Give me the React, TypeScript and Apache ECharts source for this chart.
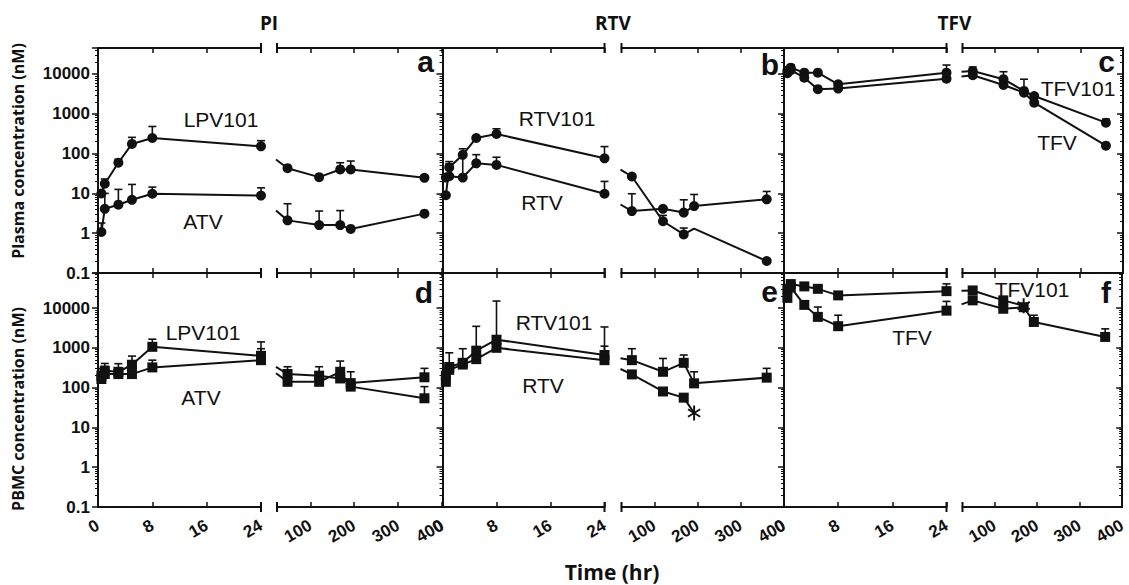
import React, { useEffect, useRef } from "react";
import * as echarts from "echarts";

// ---------- time points (hr) ----------
const earlyTimes = [0.5, 1, 3, 5, 8, 24];
const lateTimes = [48, 120, 168, 192, 360];

// ---------- tick labels ----------
const earlyTicks = [0, 8, 16, 24];
const lateTicks = [100, 200, 300, 400];
const logTickLabels = ["0.1", "1", "10", "100", "1000", "10000"];

// ---------- a: PI, plasma ----------
const aLpv101Early = [10, 17.5, 59, 175, 247, 152];
const aLpv101EarlyHi = [null, 23, 72, 256, 480, 211];
const aLpv101Late = [43, 25.6, 40, 40, 24.6];
const aLpv101LateHi = [null, null, 59, 65, null];
const aAtvEarly = [1.07, 4.1, 5.2, 6.9, 9.8, 8.8];
const aAtvEarlyHi = [1.8, 10, 12.6, 16.8, 14.4, 13.8];
const aAtvLate = [2.1, 1.6, 1.6, 1.28, 3.1];
const aAtvLateHi = [5.5, 3.6, 3.7, null, null];

// ---------- b: RTV, plasma ----------
const bRtv101Early = [9, 45, 93, 247, 310, 76];
const bRtv101EarlyHi = [null, 63, 132, null, 420, 150];
const bRtv101Late = [26.6, 2.0, 0.93, 1.3, 0.2];
const bRtv101LateHi = [30, 2.8, 1.35, null, null];
const bRtv101LateMarks = ["", "", "", "none", ""];
const bRtvEarly = [25, 27, 25, 57, 52, 9.8];
const bRtvEarlyHi = [null, 55, 93, 94, 81, 20];
const bRtvLate = [3.6, 4.1, 3.3, 4.8, 7.1];
const bRtvLateHi = [9.8, 4.6, 6.9, 9.4, 11.2];

// ---------- c: TFV, plasma ----------
const cTfv101Early = [12000, 14400, 10800, 10800, 5500, 10800];
const cTfv101EarlyHi = [15000, 17000, null, null, 6000, 16800];
const cTfv101Late = [11900, 7400, 3760, 2800, 600];
const cTfv101LateHi = [15000, 11400, 7400, null, 735];
const cTfvEarly = [10500, 12500, 8100, 4150, 4300, 7600];
const cTfvEarlyHi = [null, null, null, 4800, null, null];
const cTfvLate = [9300, 5300, 3400, 1900, 158];
const cTfvLateHi = [null, null, null, null, null];

// ---------- d: PI, PBMC ----------
const dLpv101Early = [200, 266, 250, 376, 1060, 630];
const dLpv101EarlyHi = [null, 405, 400, 620, 1650, 1410];
const dLpv101Late = [220, 200, 170, 130, 182];
const dLpv101LateHi = [335, 335, null, null, 305];
const dAtvEarly = [165, 220, 219, 219, 322, 490];
const dAtvEarlyHi = [300, 340, null, null, 490, 950];
const dAtvLate = [140, 140, 250, 106, 54];
const dAtvLateHi = [null, null, 465, 250, 106];

// ---------- e: RTV, PBMC ----------
const eRtv101Early = [200, 330, 420, 850, 1600, 660];
const eRtv101EarlyHi = [null, 750, 950, 3470, 15000, 3350];
const eRtv101Late = [490, 250, 420, 128, 178];
const eRtv101LateHi = [950, 540, 660, 250, 305];
const eRtvEarly = [140, 280, 380, 520, 1000, 490];
const eRtvEarlyHi = [null, null, null, null, null, 1100];
const eRtvLateTimes = [48, 120, 168, 192];
const eRtvLate = [215, 80, 56, 23];
const eRtvLateHi = [null, null, null, null];
const eRtvLateMarks = ["", "", "", "*"];

// ---------- f: TFV, PBMC ----------
const fTfv101Early = [30000, 40000, 35000, 30400, 20800, 26600];
const fTfv101EarlyHi = [null, null, 43000, null, null, 40500];
const fTfv101LateTimes = [48, 120, 168];
const fTfv101Late = [27700, 15600, 11500];
const fTfv101LateHi = [null, null, null];
const fTfv101LateMarks = ["", "", "*"];
const fTfvEarly = [18000, 33000, 12000, 6000, 3500, 8600];
const fTfvEarlyHi = [null, null, null, 10600, 6600, 14700];
const fTfvLate = [15600, 9600, 10500, 4470, 1880];
const fTfvLateHi = [null, null, null, 6600, 3000];

// ---------- layout ----------
const INK = "#111";
const ROWS = [
  { top: 48, height: 225, yMax: 45000 },
  { top: 273, height: 234, yMax: 76000 },
];
const COLS = [
  { l0: 98, l1: 261, r0: 277, r1: 442 },
  { l0: 442.5, l1: 604.5, r0: 621.5, r1: 784 },
  { l0: 784, l1: 946.5, r0: 962.5, r1: 1123 },
];
const ASTERISK =
  "path://M-1.3,-10L1.3,-10L1.3,10L-1.3,10Z M7.5,-6.13L8.8,-3.87L-7.5,6.13L-8.8,3.87Z M8.8,3.87L7.5,6.13L-8.8,-3.87L-7.5,-6.13Z";

type Curve = {
  early: number[];
  earlyHi: (number | null)[];
  lateT: number[];
  late: number[];
  lateHi: (number | null)[];
  marks?: string[];
};
type Panel = {
  row: number;
  col: number;
  letter: string;
  letterPos: [number, number];
  symbol: string;
  curves: Curve[];
  labels: { text: string; x: number; y: number }[];
};

const panels: Panel[] = [
  {
    row: 0, col: 0, letter: "a", letterPos: [434, 61], symbol: "circle",
    curves: [
      { early: aLpv101Early, earlyHi: aLpv101EarlyHi, lateT: lateTimes, late: aLpv101Late, lateHi: aLpv101LateHi },
      { early: aAtvEarly, earlyHi: aAtvEarlyHi, lateT: lateTimes, late: aAtvLate, lateHi: aAtvLateHi },
    ],
    labels: [{ text: "LPV101", x: 221, y: 119 }, { text: "ATV", x: 203, y: 221 }],
  },
  {
    row: 0, col: 1, letter: "b", letterPos: [779, 64], symbol: "circle",
    curves: [
      { early: bRtv101Early, earlyHi: bRtv101EarlyHi, lateT: lateTimes, late: bRtv101Late, lateHi: bRtv101LateHi, marks: bRtv101LateMarks },
      { early: bRtvEarly, earlyHi: bRtvEarlyHi, lateT: lateTimes, late: bRtvLate, lateHi: bRtvLateHi },
    ],
    labels: [{ text: "RTV101", x: 557, y: 118 }, { text: "RTV", x: 542, y: 202 }],
  },
  {
    row: 0, col: 2, letter: "c", letterPos: [1115, 61], symbol: "circle",
    curves: [
      { early: cTfv101Early, earlyHi: cTfv101EarlyHi, lateT: lateTimes, late: cTfv101Late, lateHi: cTfv101LateHi },
      { early: cTfvEarly, earlyHi: cTfvEarlyHi, lateT: lateTimes, late: cTfvLate, lateHi: cTfvLateHi },
    ],
    labels: [{ text: "TFV101", x: 1078, y: 88 }, { text: "TFV", x: 1057, y: 142 }],
  },
  {
    row: 1, col: 0, letter: "d", letterPos: [433, 292], symbol: "rect",
    curves: [
      { early: dLpv101Early, earlyHi: dLpv101EarlyHi, lateT: lateTimes, late: dLpv101Late, lateHi: dLpv101LateHi },
      { early: dAtvEarly, earlyHi: dAtvEarlyHi, lateT: lateTimes, late: dAtvLate, lateHi: dAtvLateHi },
    ],
    labels: [{ text: "LPV101", x: 203, y: 332 }, { text: "ATV", x: 201, y: 397 }],
  },
  {
    row: 1, col: 1, letter: "e", letterPos: [778, 291], symbol: "rect",
    curves: [
      { early: eRtv101Early, earlyHi: eRtv101EarlyHi, lateT: lateTimes, late: eRtv101Late, lateHi: eRtv101LateHi },
      { early: eRtvEarly, earlyHi: eRtvEarlyHi, lateT: eRtvLateTimes, late: eRtvLate, lateHi: eRtvLateHi, marks: eRtvLateMarks },
    ],
    labels: [{ text: "RTV101", x: 554, y: 322 }, { text: "RTV", x: 543, y: 385 }],
  },
  {
    row: 1, col: 2, letter: "f", letterPos: [1111, 292], symbol: "rect",
    curves: [
      { early: fTfv101Early, earlyHi: fTfv101EarlyHi, lateT: fTfv101LateTimes, late: fTfv101Late, lateHi: fTfv101LateHi, marks: fTfv101LateMarks },
      { early: fTfvEarly, earlyHi: fTfvEarlyHi, lateT: lateTimes, late: fTfvLate, lateHi: fTfvLateHi },
    ],
    labels: [{ text: "TFV101", x: 1032, y: 289 }, { text: "TFV", x: 912, y: 337 }],
  },
];

const logLabel = (v: number) => {
  const e = Math.log10(v);
  const r = Math.round(e);
  if (Math.abs(e - r) > 1e-6 || r < -1 || r > 4) return "";
  return logTickLabels[r + 1];
};

function buildOption() {
  const grid: any[] = [];
  const xAxis: any[] = [];
  const yAxis: any[] = [];
  const series: any[] = [];
  const graphic: any[] = [];

  for (let row = 0; row < 2; row++) {
    for (let col = 0; col < 3; col++) {
      for (let part = 0; part < 2; part++) {
        const g = row * 6 + col * 2 + part;
        const R = ROWS[row];
        const C = COLS[col];
        const left = part === 0 ? C.l0 : C.r0;
        const right = part === 0 ? C.l1 : C.r1;
        grid.push({ left, top: R.top, width: right - left, height: R.height, containLabel: false });
        const isEarly = part === 0;
        const baseX = {
          type: "value",
          gridIndex: g,
          min: isEarly ? 0 : 24,
          max: isEarly ? 24 : 400,
          interval: isEarly ? 8 : undefined,
          splitLine: { show: false },
          axisLine: { show: true, onZero: false, lineStyle: { color: INK, width: 2 } },
        };
        const tickCfg: any = { show: true, inside: true, length: 5, lineStyle: { color: INK, width: 1.5 } };
        if (!isEarly) tickCfg.customValues = lateTicks;
        const labelCfg: any = {
          show: row === 1,
          rotate: 30,
          margin: 17,
          color: INK,
          fontFamily: "Liberation Sans",
          fontWeight: "bold",
          fontSize: 17,
          showMinLabel: true,
          showMaxLabel: true,
          customValues: isEarly ? earlyTicks : lateTicks,
        };
        xAxis.push({ ...baseX, position: "bottom", axisTick: tickCfg, axisLabel: labelCfg });
        xAxis.push({ ...baseX, position: "top", axisTick: tickCfg, axisLabel: { show: false } });

        yAxis.push({
          type: "log",
          logBase: 10,
          gridIndex: g,
          min: 0.1,
          max: R.yMax,
          show: isEarly,
          position: "left",
          splitLine: { show: false },
          axisLine: { show: true, onZero: false, lineStyle: { color: INK, width: 2 } },
          axisTick: { show: true, inside: false, length: 6, lineStyle: { color: INK, width: 1.5 } },
          minorTick: { show: true, splitNumber: 9, length: 3, lineStyle: { color: INK, width: 1 } },
          axisLabel: {
            show: col === 0,
            margin: 8,
            color: INK,
            fontFamily: "Liberation Sans",
            fontWeight: "bold",
            fontSize: 17,
            formatter: logLabel,
          },
        });
      }
    }
  }
  for (let row = 0; row < 2; row++) {
    const g = row * 6 + 5;
    yAxis.push({
      type: "log",
      logBase: 10,
      gridIndex: g,
      min: 0.1,
      max: ROWS[row].yMax,
      position: "right",
      splitLine: { show: false },
      axisLine: { show: true, onZero: false, lineStyle: { color: INK, width: 2 } },
      axisTick: { show: true, inside: true, length: 6, lineStyle: { color: INK, width: 1.5 } },
      minorTick: { show: true, splitNumber: 9, length: 3, lineStyle: { color: INK, width: 1 } },
      axisLabel: { show: false },
    });
  }

  const errRender = (params: any, api: any) => {
    const p = api.coord([api.value(0), api.value(1)]);
    const q = api.coord([api.value(0), api.value(2)]);
    return {
      type: "group",
      children: [
        { type: "line", shape: { x1: p[0], y1: p[1], x2: q[0], y2: q[1] }, style: { stroke: INK, lineWidth: 1.6 } },
        { type: "line", shape: { x1: q[0] - 4, y1: q[1], x2: q[0] + 4, y2: q[1] }, style: { stroke: INK, lineWidth: 1.6 } },
      ],
    };
  };

  panels.forEach((P) => {
    const C = COLS[P.col];
    const gap = C.r0 - C.l1;
    const gEarly = P.row * 6 + P.col * 2;
    const gLate = gEarly + 1;
    P.curves.forEach((cv) => {
      series.push({
        type: "line",
        xAxisIndex: gEarly * 2,
        yAxisIndex: gEarly,
        data: earlyTimes.map((t, i) => [t, cv.early[i]]),
        symbol: P.symbol,
        symbolSize: 10,
        lineStyle: { color: INK, width: 2 },
        itemStyle: { color: INK },
        z: 3,
      });
      series.push({
        type: "custom",
        xAxisIndex: gEarly * 2,
        yAxisIndex: gEarly,
        renderItem: errRender,
        data: earlyTimes
          .map((t, i) => [t, cv.early[i], cv.earlyHi[i]])
          .filter((d) => d[2] != null),
        z: 2,
      });
      series.push({
        type: "line",
        xAxisIndex: gLate * 2,
        yAxisIndex: gLate,
        data: cv.lateT.map((t, i) => {
          const m = cv.marks ? cv.marks[i] : "";
          if (m === "none") return { value: [t, cv.late[i]], symbol: "none" };
          if (m === "*") return { value: [t, cv.late[i]], symbol: ASTERISK, symbolSize: 15, symbolKeepAspect: true };
          return { value: [t, cv.late[i]] };
        }),
        symbol: P.symbol,
        symbolSize: 10,
        lineStyle: { color: INK, width: 2 },
        itemStyle: { color: INK },
        z: 3,
      });
      series.push({
        type: "custom",
        xAxisIndex: gLate * 2,
        yAxisIndex: gLate,
        renderItem: errRender,
        data: cv.lateT
          .map((t, i) => [t, cv.late[i], cv.lateHi[i]])
          .filter((d) => d[2] != null),
        z: 2,
      });
      series.push({
        type: "custom",
        xAxisIndex: gLate * 2,
        yAxisIndex: gLate,
        data: [[24, cv.early[cv.early.length - 1], cv.lateT[0], cv.late[0]]],
        renderItem: (params: any, api: any) => {
          const cs = params.coordSys;
          const a = api.coord([api.value(0), api.value(1)]);
          const b = api.coord([api.value(2), api.value(3)]);
          const ax = a[0] - gap;
          const t = (cs.x - ax) / (b[0] - ax);
          const y0 = a[1] + t * (b[1] - a[1]);
          return { type: "line", shape: { x1: cs.x - 1, y1: y0, x2: b[0], y2: b[1] }, style: { stroke: INK, lineWidth: 2 } };
        },
        z: 3,
      });
    });

    P.labels.forEach((lb) => {
      graphic.push({
        type: "text",
        x: lb.x,
        y: lb.y,
        z: 10,
        style: {
          text: lb.text, fill: INK, fontFamily: "Liberation Sans", fontSize: 21,
          align: "center", verticalAlign: "middle", textAlign: "center", textVerticalAlign: "middle",
        },
      });
    });
    graphic.push({
      type: "text",
      x: P.letterPos[0],
      y: P.letterPos[1],
      z: 10,
      style: {
        text: P.letter, fill: INK, fontFamily: "Liberation Sans", fontWeight: "bold", fontSize: 30,
        align: "right", verticalAlign: "middle", textAlign: "right", textVerticalAlign: "middle",
      },
    });
  });

  COLS.forEach((C) => {
    [48, 273, 507].forEach((y) => {
      [C.l1, C.r0].forEach((x) => {
        graphic.push({ type: "line", z: 10, shape: { x1: x, y1: y - 5, x2: x, y2: y + 5 }, style: { stroke: INK, lineWidth: 2 } });
      });
    });
  });

  const titles = ["PI", "RTV", "TFV"];
  titles.forEach((t, i) => {
    const C = COLS[i];
    graphic.push({
      type: "text",
      x: (C.l1 + C.r0) / 2,
      y: 23,
      z: 10,
      style: {
        text: t, fill: INK, fontFamily: "Open Sans", fontWeight: "bold", fontSize: 19,
        align: "center", verticalAlign: "middle", textAlign: "center", textVerticalAlign: "middle",
      },
    });
  });
  const yTitles = [
    { text: "Plasma concentration (nM)", y: 151 },
    { text: "PBMC concentration (nM)", y: 409 },
  ];
  yTitles.forEach((t) => {
    graphic.push({
      type: "text",
      x: 18,
      y: t.y,
      rotation: Math.PI / 2,
      z: 10,
      style: {
        text: t.text, fill: INK, fontFamily: "Open Sans", fontWeight: "bold", fontSize: 16,
        align: "center", verticalAlign: "middle", textAlign: "center", textVerticalAlign: "middle",
      },
    });
  });
  graphic.push({
    type: "text",
    x: 612,
    y: 572,
    z: 10,
    style: {
      text: "Time (hr)", fill: INK, fontFamily: "Open Sans", fontWeight: "bold", fontSize: 21,
      align: "center", verticalAlign: "middle", textAlign: "center", textVerticalAlign: "middle",
    },
  });

  return {
    animation: false,
    backgroundColor: "#ffffff",
    grid,
    xAxis,
    yAxis,
    series,
    graphic,
  };
}

export default function App() {
  const ref = useRef<HTMLDivElement>(null);
  useEffect(() => {
    if (!ref.current) return;
    const chart = echarts.init(ref.current, undefined, { renderer: "svg" });
    chart.setOption(buildOption() as any);
    return () => chart.dispose();
  }, []);
  return (
    <div
      ref={ref}
      style={{ position: "fixed", left: 0, top: 0, width: 1129, height: 585, background: "#fff" }}
    />
  );
}
